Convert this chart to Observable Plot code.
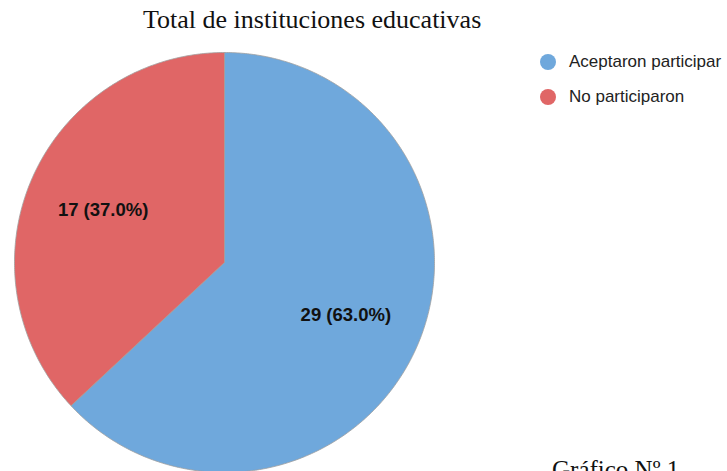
<!DOCTYPE html>
<html>
<head>
<meta charset="utf-8">
<script src="https://cdn.jsdelivr.net/npm/d3@7"></script>
<script src="https://cdn.jsdelivr.net/npm/@observablehq/plot@0.6"></script>
<style>
  html, body { margin: 0; padding: 0; background: #fff; overflow: hidden; }
  #wrap { position: relative; width: 727px; height: 471px; overflow: hidden; }
  #chart { position: absolute; left: 0; top: 0; }
  #title { position: absolute; left: 143px; top: 7px; line-height: 1;
           font-family: "Liberation Serif", "Times New Roman", serif; font-size: 26px; color: #111; white-space: nowrap; }
  #legend { position: absolute; left: 540px; top: 44.5px; font-family: "Liberation Sans", Arial, sans-serif; font-size: 17px; color: #222; }
  .item { display: flex; align-items: center; height: 35px; white-space: nowrap; }
  .dot { width: 16px; height: 16px; border-radius: 50%; margin-right: 13px; flex: none; }
  #caption { position: absolute; left: 552px; top: 457px; line-height: 1; font-family: "Liberation Serif", "Times New Roman", serif; font-size: 25px; color: #111; white-space: nowrap; }
</style>
</head>
<body>
<div id="wrap">
  <div id="chart"></div>
  <div id="title"></div>
  <div id="legend"></div>
  <div id="caption"></div>
</div>
<script>
const titleText = "Total de instituciones educativas";
const captionText = "Gráfico Nº 1";
const categories = ["Aceptaron participar", "No participaron"];
const counts = [29, 17];
const colors = ["#6fa8dc", "#e06666"];

const total = d3.sum(counts);
const arcs = d3.pie().sort(null)(counts);

// slice outlines in unit-circle coordinates (y up), angle clockwise from 12 o'clock
const slices = [];
arcs.forEach((a, i) => {
  const cat = categories[i];
  slices.push({cat, x: 0, y: 0});
  const n = Math.max(2, Math.ceil((a.endAngle - a.startAngle) / 0.01));
  for (let k = 0; k <= n; k++) {
    const t = a.startAngle + (a.endAngle - a.startAngle) * k / n;
    slices.push({cat, x: Math.sin(t), y: Math.cos(t)});
  }
  slices.push({cat, x: 0, y: 0});
});

const labels = arcs.map((a, i) => {
  const m = (a.startAngle + a.endAngle) / 2;
  const r = 0.63;
  return {
    x: r * Math.sin(m), y: r * Math.cos(m),
    text: `${counts[i]} (${(counts[i] / total * 100).toFixed(1)}%)`
  };
});

const plot = Plot.plot({
  width: 727, height: 471,
  margin: 0,
  x: {domain: [-1, 1], range: [14, 434], axis: null},
  y: {domain: [-1, 1], range: [472, 52], axis: null},
  color: {domain: categories, range: colors},
  marks: [
    Plot.line(slices, {x: "x", y: "y", z: "cat", fill: "cat", stroke: "#a0a0a0", strokeWidth: 0.8, curve: "linear"}),
    Plot.text(labels, {x: "x", y: "y", text: "text", fontSize: 18.5, fontWeight: "bold",
      fontFamily: "Liberation Sans, Arial, sans-serif", fill: "#111"})
  ]
});
document.getElementById("chart").appendChild(plot);
document.getElementById("title").textContent = titleText;
document.getElementById("caption").textContent = captionText;
const legend = document.getElementById("legend");
categories.forEach((c, i) => {
  const it = document.createElement("div");
  it.className = "item";
  const d = document.createElement("span");
  d.className = "dot";
  d.style.background = colors[i];
  const s = document.createElement("span");
  s.textContent = c;
  it.appendChild(d); it.appendChild(s);
  legend.appendChild(it);
});
</script>
</body>
</html>
